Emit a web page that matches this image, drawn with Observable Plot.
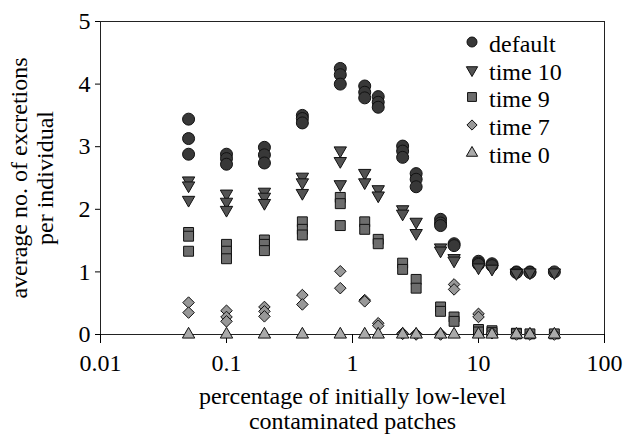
<!DOCTYPE html>
<html><head><meta charset="utf-8">
<script src="https://cdn.jsdelivr.net/npm/d3@7"></script>
<script src="https://cdn.jsdelivr.net/npm/@observablehq/plot@0.6"></script>
<style>
body{margin:0;background:#fff}
#wrap{position:relative;width:623px;height:439px;font-family:"Liberation Serif",serif}
#legend{position:absolute;left:0;top:0}
</style>
</head><body><div id="wrap"></div>
<script>
// x positions (percentage of initially low-level contaminated patches)
const xValues = [0.05, 0.1, 0.2, 0.4, 0.8, 1.25, 1.6, 2.5, 3.2, 5, 6.4, 10, 12.8, 20, 25.6, 40];

// replicate values per x position, one array per series
const defaultVals = [
  [3.44, 3.13, 2.88], [2.88, 2.81, 2.72], [2.99, 2.87, 2.74], [3.50, 3.45, 3.38],
  [4.25, 4.15, 4.00], [3.97, 3.87, 3.78], [3.80, 3.71, 3.63], [3.01, 2.93, 2.83],
  [2.57, 2.48, 2.36], [1.84, 1.78, 1.74], [1.45, 1.42], [1.17, 1.14, 1.12],
  [1.13, 1.10], [1.00, 0.99], [1.00, 0.99], [1.00]
];
const time10Vals = [
  [2.46, 2.38, 2.15], [2.25, 2.12, 1.99], [2.28, 2.20, 2.10], [2.52, 2.43, 2.26],
  [2.94, 2.77, 2.40], [2.58, 2.43], [2.32, 2.22], [2.00, 1.93],
  [1.80, 1.62], [1.39, 1.34], [1.22, 1.18], [1.07],
  [1.05], [0.99, 0.98], [0.99], [0.99]
];
const time9Vals = [
  [1.63, 1.57, 1.33], [1.44, 1.33, 1.21], [1.51, 1.44, 1.34], [1.80, 1.68, 1.59],
  [2.19, 2.09, 1.74], [1.80, 1.68], [1.52, 1.45], [1.14, 1.04],
  [0.88, 0.74], [0.44, 0.37], [0.28, 0.21], [0.08, 0.04],
  [0.06, 0.03], [0.02, 0.01], [0.01], [0.01]
];
const time7Vals = [
  [0.51, 0.35], [0.38, 0.28, 0.21], [0.44, 0.37, 0.29], [0.63, 0.48],
  [1.01, 0.74], [0.55, 0.53], [0.18, 0.14], [0.02, 0.01],
  [0.01, 0], [0.01, 0], [0.80, 0.72], [0.33, 0.28],
  [0.02], [0], [0], [0]
];
const time0Vals = [
  [0], [0], [0], [0], [0], [0], [0], [0], [0], [0], [0], [0], [0], [0], [0], [0]
];

const seriesLabels = ["default", "time 10", "time 9", "time 7", "time 0"];
const xTicks = [0.01, 0.1, 1, 10, 100];
const yTicks = [0, 1, 2, 3, 4, 5];
const xTitle = "percentage of initially low-level\ncontaminated patches";
const yTitle = "average no. of excretions\nper individual";

const triangleDown = {
  draw(context, size) {
    const y = -Math.sqrt(size / (Math.sqrt(3) * 3));
    const s = Math.sqrt(3);
    context.moveTo(0, -y * 2);
    context.lineTo(-s * y, y);
    context.lineTo(s * y, y);
    context.closePath();
  }
};

const styles = [
  {symbol: "circle", fill: "#383838", r: 6},
  {symbol: triangleDown, fill: "#535353", r: 4.6},
  {symbol: "square", fill: "#6d6d6d", r: 5.6},
  {symbol: "diamond2", fill: "#989898", r: 5.2},
  {symbol: "triangle", fill: "#aaaaaa", r: 4.6}
];

const allSeries = [defaultVals, time10Vals, time9Vals, time7Vals, time0Vals];
const flat = (vals, name) => vals.flatMap((reps, i) => reps.map(v => ({x: xValues[i], y: v, series: name})));

const dotMarks = allSeries.map((vals, k) =>
  Plot.dot(flat(vals, seriesLabels[k]), {
    x: "x", y: "y", symbol: () => seriesLabels[k],
    r: styles[k].r, fill: styles[k].fill, stroke: "#111", strokeWidth: 1
  })
);

const FS = 24;

const chart = Plot.plot({
  width: 623,
  height: 439,
  marginLeft: 100,
  marginRight: 19,
  marginTop: 21,
  marginBottom: 105,
  style: {fontFamily: "Liberation Serif, serif", fontSize: FS + "px", color: "#000", background: "#fff", overflow: "visible"},
  x: {type: "log", domain: [0.01, 100]},
  y: {domain: [0, 5]},
  symbol: {domain: seriesLabels, range: styles.map(s => s.symbol)},
  marks: [
    Plot.frame({stroke: "#222", strokeWidth: 1}),
    Plot.axisX({ticks: xTicks, tickFormat: d => String(d), tickSize: 9, tickPadding: 10, label: null, fontSize: FS}),
    Plot.axisY({ticks: yTicks, tickFormat: d => String(d), tickSize: 5, tickPadding: 5, label: null, fontSize: FS}),
    ...dotMarks,
    Plot.text([xTitle], {frameAnchor: "bottom", dy: 94, lineAnchor: "bottom", textAnchor: "middle", lineHeight: 1.04, fontSize: FS}),
    Plot.text([yTitle], {frameAnchor: "left", dx: -69, rotate: -90, lineAnchor: "middle", textAnchor: "middle", lineHeight: 1.1, fontSize: FS})
  ]
});

const wrap = document.getElementById("wrap");
wrap.appendChild(chart);

// legend overlay
const legendRowsY = [42, 70, 97, 125, 153];
const legendSizes = [5, 4.2, 5, 4.6, 4.2];
const ns = "http://www.w3.org/2000/svg";
const lg = document.createElementNS(ns, "svg");
lg.setAttribute("id", "legend");
lg.setAttribute("width", 623);
lg.setAttribute("height", 439);
seriesLabels.forEach((name, k) => {
  const symType = typeof styles[k].symbol === "string"
    ? {circle: d3.symbolCircle, square: d3.symbolSquare, diamond2: d3.symbolDiamond2, triangle: d3.symbolTriangle}[styles[k].symbol]
    : styles[k].symbol;
  const r = legendSizes[k];
  const p = document.createElementNS(ns, "path");
  p.setAttribute("d", d3.symbol(symType, Math.PI * r * r)());
  p.setAttribute("transform", `translate(472,${legendRowsY[k]})`);
  p.setAttribute("fill", styles[k].fill);
  p.setAttribute("stroke", "#111");
  lg.appendChild(p);
  const t = document.createElementNS(ns, "text");
  t.setAttribute("x", 489);
  t.setAttribute("y", legendRowsY[k] + 10);
  t.setAttribute("font-size", FS + "px");
  t.setAttribute("font-family", "Liberation Serif, serif");
  t.textContent = name;
  lg.appendChild(t);
});
wrap.appendChild(lg);
</script>
</body></html>
